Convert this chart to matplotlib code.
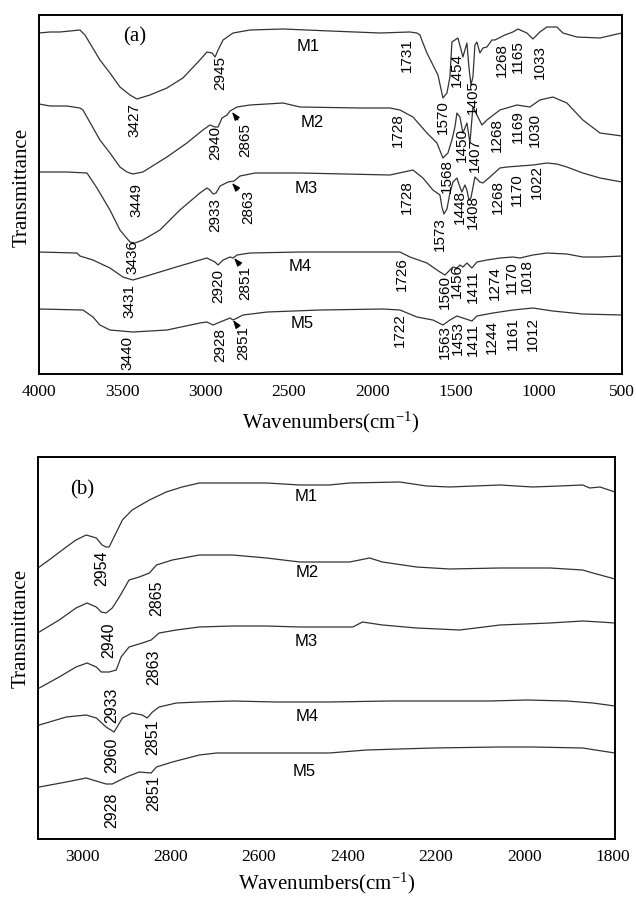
import matplotlib.pyplot as plt

plt.rcParams['font.family'] = ['Liberation Serif', 'DejaVu Serif']
plt.rcParams['mathtext.fontset'] = 'custom'
plt.rcParams['mathtext.rm'] = 'Liberation Serif'
plt.rcParams['mathtext.it'] = 'Liberation Serif:italic'

SANS = ['Liberation Sans', 'DejaVu Sans']
LINE = '#333333'

# ---- panel (a): full range spectra, transmittance (arbitrary units, offset) ----
a_m1_wn = [4000, 3934, 3874, 3814, 3754, 3724, 3634, 3574, 3514, 3454, 3412, 3334, 3232, 3136,
           3034, 2992, 2961, 2943, 2925, 2895, 2835, 2733, 2535, 2253, 1953, 1773, 1731, 1713,
           1695, 1671, 1635, 1605, 1575, 1551, 1533, 1521, 1503, 1485, 1461, 1455, 1443, 1431,
           1419, 1407, 1395, 1383, 1371, 1353, 1335, 1311, 1281, 1263, 1203, 1155, 1125, 1071,
           1035, 993, 951, 891, 855, 771, 632, 554, 500]
a_m1_t = [341, 342, 342, 343, 344, 339, 314, 301, 287, 279, 275, 279, 286, 296,
          314, 322, 321, 317, 324, 334, 341, 344, 345, 343, 341, 342, 341, 339,
          331, 321, 309, 299, 276, 281, 297, 332, 334, 336, 321, 317, 324, 331,
          307, 289, 297, 329, 332, 321, 326, 327, 334, 334, 339, 342, 345, 341,
          335, 342, 347, 347, 341, 337, 336, 339, 341]

a_m2_wn = [4000, 3934, 3832, 3754, 3736, 3634, 3574, 3514, 3472, 3436, 3376, 3232, 3112, 3016,
           2974, 2943, 2925, 2901, 2871, 2853, 2811, 2733, 2535, 2433, 2073, 1893, 1833, 1755,
           1671, 1611, 1575, 1545, 1521, 1503, 1491, 1473, 1455, 1431, 1413, 1395, 1365, 1341,
           1311, 1233, 1131, 1053, 993, 915, 831, 735, 632, 500]
a_m2_t = [270, 268, 268, 266, 264, 234, 221, 207, 202, 200, 202, 217, 231, 244,
          249, 247, 247, 256, 259, 263, 267, 269, 271, 267, 266, 266, 264, 257,
          241, 231, 216, 221, 234, 247, 261, 257, 241, 251, 231, 267, 257, 249,
          254, 264, 269, 267, 274, 277, 271, 254, 241, 238]

a_m3_wn = [4000, 3832, 3712, 3652, 3574, 3514, 3454, 3424, 3376, 3274, 3154, 3034, 2992, 2974,
           2955, 2937, 2913, 2865, 2829, 2793, 2703, 2433, 1893, 1755, 1695, 1635, 1593, 1581,
           1569, 1551, 1533, 1515, 1491, 1473, 1461, 1443, 1431, 1419, 1407, 1383, 1353, 1335,
           1293, 1233, 1191, 1035, 951, 891, 831, 735, 632, 500]
a_m3_t = [202, 202, 201, 186, 164, 144, 132, 131, 134, 144, 164, 181, 186, 184,
          180, 181, 188, 192, 193, 198, 201, 201, 199, 204, 196, 184, 179, 167,
          160, 165, 181, 192, 196, 187, 182, 189, 184, 174, 176, 197, 192, 191,
          197, 206, 207, 209, 211, 210, 207, 201, 196, 192]

a_m4_wn = [4000, 3772, 3754, 3676, 3574, 3496, 3436, 3334, 3196, 3034, 2992, 2943, 2925, 2895,
           2853, 2835, 2811, 2733, 2433, 1833, 1773, 1671, 1593, 1563, 1545, 1515, 1491, 1473,
           1455, 1431, 1401, 1371, 1311, 1233, 1155, 1113, 1035, 951, 831, 735, 632, 500]
a_m4_t = [122, 121, 118, 114, 106, 97, 94, 99, 106, 114, 116, 112, 109, 114,
          117, 116, 119, 121, 122, 122, 117, 111, 102, 99, 102, 107, 106, 109,
          107, 111, 106, 112, 114, 116, 117, 116, 119, 121, 120, 117, 117, 118]

a_m5_wn = [4000, 3736, 3676, 3634, 3574, 3436, 3232, 3034, 2992, 2955, 2913, 2853, 2835, 2775,
           2631, 2313, 1935, 1833, 1731, 1635, 1575, 1533, 1491, 1455, 1401, 1371, 1275, 1155,
           1035, 915, 735, 500]
a_m5_t = [65, 64, 57, 49, 44, 42, 44, 51, 52, 49, 52, 56, 54, 59,
          62, 64, 65, 64, 57, 54, 49, 54, 58, 56, 53, 58, 61, 64,
          66, 63, 60, 59]

# ---- panel (b): C-H stretching region ----
b_m1_wn = [3097, 3075, 3036, 3014, 2991, 2968, 2955, 2946, 2939, 2928, 2909, 2887, 2848, 2810,
           2774, 2735, 2660, 2583, 2508, 2441, 2395, 2282, 2221, 2169, 2055, 1981, 1920, 1868,
           1852, 1829, 1795]
b_m1_t = [272, 279, 292, 299, 304, 301, 294, 292, 292, 302, 319, 329, 339, 347,
          352, 356, 356, 356, 354, 354, 356, 357, 353, 352, 354, 352, 353, 354,
          351, 352, 347]

b_m2_wn = [3097, 3052, 3014, 2989, 2968, 2957, 2946, 2932, 2916, 2894, 2871, 2848, 2832, 2796,
           2735, 2660, 2583, 2508, 2395, 2350, 2321, 2244, 2169, 2055, 1942, 1868, 1845, 1795]
b_m2_t = [207, 219, 231, 236, 232, 227, 226, 231, 242, 259, 262, 266, 274, 279,
          284, 284, 281, 277, 277, 281, 277, 272, 270, 271, 271, 269, 266, 260]

b_m3_wn = [3097, 3052, 3014, 2989, 2968, 2957, 2939, 2923, 2912, 2894, 2864, 2844, 2826, 2787,
           2735, 2660, 2583, 2508, 2388, 2366, 2321, 2244, 2146, 2055, 1942, 1868, 1829, 1795]
b_m3_t = [151, 162, 172, 176, 172, 167, 167, 169, 182, 192, 196, 199, 206, 209,
          212, 213, 213, 212, 212, 217, 214, 211, 209, 214, 216, 218, 217, 216]

b_m4_wn = [3097, 3036, 2991, 2968, 2946, 2928, 2921, 2909, 2887, 2864, 2853, 2841, 2826, 2787,
           2735, 2660, 2561, 2441, 2305, 2078, 1994, 1904, 1845, 1795]
b_m4_t = [114, 122, 124, 121, 112, 107, 112, 121, 126, 124, 121, 127, 132, 136,
          137, 138, 137, 137, 138, 138, 139, 138, 136, 133]

b_m5_wn = [3097, 3036, 2991, 2961, 2946, 2932, 2900, 2871, 2844, 2832, 2796, 2735, 2696, 2583,
           2441, 2357, 2207, 2055, 1981, 1868, 1795]
b_m5_t = [52, 57, 61, 57, 55, 55, 62, 67, 66, 72, 77, 84, 86, 86,
          86, 89, 91, 92, 92, 91, 86]

a_series = [(a_m1_wn, a_m1_t), (a_m2_wn, a_m2_t), (a_m3_wn, a_m3_t),
            (a_m4_wn, a_m4_t), (a_m5_wn, a_m5_t)]
b_series = [(b_m1_wn, b_m1_t), (b_m2_wn, b_m2_t), (b_m3_wn, b_m3_t),
            (b_m4_wn, b_m4_t), (b_m5_wn, b_m5_t)]

a_ticks = [4000, 3500, 3000, 2500, 2000, 1500, 1000, 500]
b_ticks = [3000, 2800, 2600, 2400, 2200, 2000, 1800]

# sample names and peak annotations: (text, x, y)
a_names = [('M1', 2385, 327), ('M2', 2361, 252), ('M3', 2397, 186), ('M4', 2433, 108), ('M5', 2421, 51)]
a_peaks = [
    ('3427', 3424, 254), ('2945', 2913, 301), ('1731', 1791, 319), ('1570', 1575, 257),
    ('1454', 1491, 304), ('1405', 1395, 277), ('1268', 1221, 314), ('1165', 1125, 317),
    ('1033', 992, 312),
    ('3449', 3412, 174), ('2940', 2943, 231), ('2865', 2763, 234), ('1728', 1845, 244),
    ('1568', 1551, 198), ('1450', 1461, 229), ('1407', 1383, 219), ('1268', 1251, 239),
    ('1169', 1125, 247), ('1030', 1022, 244),
    ('3436', 3436, 117), ('2933', 2943, 159), ('2863', 2745, 167), ('1728', 1791, 177),
    ('1573', 1593, 140), ('1448', 1473, 167), ('1408', 1395, 162), ('1268', 1245, 177),
    ('1170', 1131, 184), ('1022', 1010, 192),
    ('3431', 3454, 73), ('2920', 2925, 88), ('2851', 2763, 91), ('1726', 1821, 100),
    ('1560', 1563, 82), ('1456', 1491, 93), ('1411', 1395, 87), ('1274', 1263, 91),
    ('1170', 1161, 96), ('1018', 1071, 98),
    ('3440', 3466, 21), ('2928', 2913, 29), ('2851', 2775, 31), ('1722', 1833, 44),
    ('1563', 1563, 32), ('1453', 1485, 36), ('1411', 1395, 34), ('1244', 1281, 37),
    ('1161', 1155, 40), ('1012', 1035, 40),
]
a_arrows = [((2805, 254), (2841, 262)), ((2805, 184), (2841, 191)),
            ((2793, 109), (2829, 116)), ((2805, 47), (2835, 54))]

b_names = [('M1', 2493, 342), ('M2', 2490, 266), ('M3', 2493, 197), ('M4', 2490, 122), ('M5', 2497, 67)]
b_peaks = [('2954', 2955, 271), ('2865', 2832, 241), ('2940', 2939, 199),
           ('2863', 2837, 172), ('2933', 2932, 134), ('2960', 2934, 84),
           ('2851', 2841, 102), ('2928', 2934, 29), ('2851', 2837, 46)]

fig = plt.figure(figsize=(6.36, 8.98), dpi=100)
ax_a = fig.add_axes([0.0613, 0.5835, 0.9167, 0.3998])
ax_b = fig.add_axes([0.0597, 0.0657, 0.9072, 0.4254])


def style_axes(ax, xlim, ylim, ticks, tag, tag_xy, xpad, ylab_y):
    ax.set_xlim(*xlim)
    ax.set_ylim(*ylim)
    ax.set_xticks(ticks)
    ax.set_yticks([])
    ax.tick_params(axis='x', length=0, labelsize=12.5, pad=7)
    for s in ax.spines.values():
        s.set_linewidth(1.4)
    ax.set_xlabel(r'Wavenumbers(cm$^{\mathrm{-1}}$)', fontsize=15, labelpad=xpad)
    ax.set_ylabel('Transmittance', fontsize=15)
    ax.yaxis.set_label_coords(-0.012, ylab_y)
    ax.text(tag_xy[0], tag_xy[1], tag, fontsize=15, ha='center', va='center')


for wn, t in a_series:
    ax_a.plot(wn, t, color=LINE, lw=0.9)
for wn, t in b_series:
    ax_b.plot(wn, t, color=LINE, lw=0.9)

style_axes(ax_a, (4000, 500), (0, 359), a_ticks, '(a)', (3424, 337), 7, 0.52)
style_axes(ax_b, (3100, 1795), (0, 382), b_ticks, '(b)', (3000, 349), 4, 0.55)

for txt, x, y in a_names:
    ax_a.text(x, y, txt, family=SANS, fontsize=12, ha='center', va='center')
for txt, x, y in a_peaks:
    ax_a.text(x, y, txt, family=SANS, fontsize=11, rotation=90, ha='center', va='center')
for tail, tip in a_arrows:
    ax_a.annotate('', xy=tip, xytext=tail,
                  arrowprops=dict(arrowstyle='-|>,head_length=0.5,head_width=0.18',
                                  color='black', lw=0.8, shrinkA=0, shrinkB=0))

for txt, x, y in b_names:
    ax_b.text(x, y, txt, family=SANS, fontsize=12, ha='center', va='center')
for txt, x, y in b_peaks:
    ax_b.text(x, y, txt, family=SANS, fontsize=11.5, rotation=90, ha='center', va='center')

fig.savefig('out.png', dpi=100)
